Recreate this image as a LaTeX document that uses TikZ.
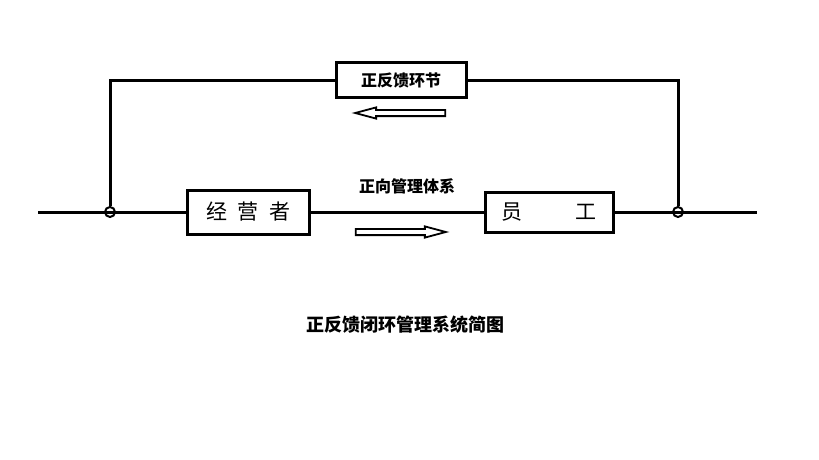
\documentclass[tikz,border=0pt]{standalone}
\usepackage{fontspec}
\setmainfont{Noto Sans CJK SC}
\usepackage{tikz}
\usetikzlibrary{arrows.meta,positioning,shapes.arrows}

\begin{document}
\begin{tikzpicture}[
    x=1pt, y=-1pt,
    blk/.style={rectangle, draw, line width=3pt, inner sep=0pt,
                font=\fontsize{21pt}{23pt}\selectfont},
    jnc/.style={circle, draw, line width=2pt, minimum size=10pt,
                inner sep=0pt},
    wire/.style={line width=3pt},
    harrow/.style={single arrow, draw, line width=1.8pt, inner sep=2.2pt,
                   minimum height=90pt, single arrow head extend=2.5pt,
                   single arrow tip angle=30},
    lbl/.style={font=\fontsize{16pt}{18pt}\selectfont\bfseries}
  ]
  \useasboundingbox (0,0) rectangle (819,460);

  \coordinate (in) at (38,212);
  \coordinate (out) at (757,212);
  \node[jnc] (jl) at (110,212) {};
  \node[jnc] (jr) at (678,212) {};

  \node[blk, minimum width=122pt, minimum height=44pt] (jyz) at (248,212)
    {经\hspace{0.5em}营\hspace{0.5em}者};
  \node[blk, minimum width=128pt, minimum height=40pt] (yg) at (549,212)
    {员\hspace{2.5em}工};
  \node[blk, minimum width=130pt, minimum height=34pt,
        font=\fontsize{16pt}{18pt}\selectfont\bfseries] (fb) at (401,80)
    {正反馈环节};

  \node[lbl] (fwd) at (407,186) {正向管理体系};
  \node[harrow, shape border rotate=180] (back) at (406,113) {};
  \node[harrow] (ahead) at (395,232) {};

  \node[font=\fontsize{18pt}{20pt}\selectfont\bfseries] (title) at (405,325)
    {正反馈闭环管理系统简图};

  \draw[wire] (in) -- (jl.center) -- (jyz);
  \draw[wire] (jyz) -- (yg);
  \draw[wire] (yg) -- (jr.center) -- (out);
  \draw[wire] (jl.north) |- (fb);
  \draw[wire] (fb) -| (jr.north);
\end{tikzpicture}
\end{document}
